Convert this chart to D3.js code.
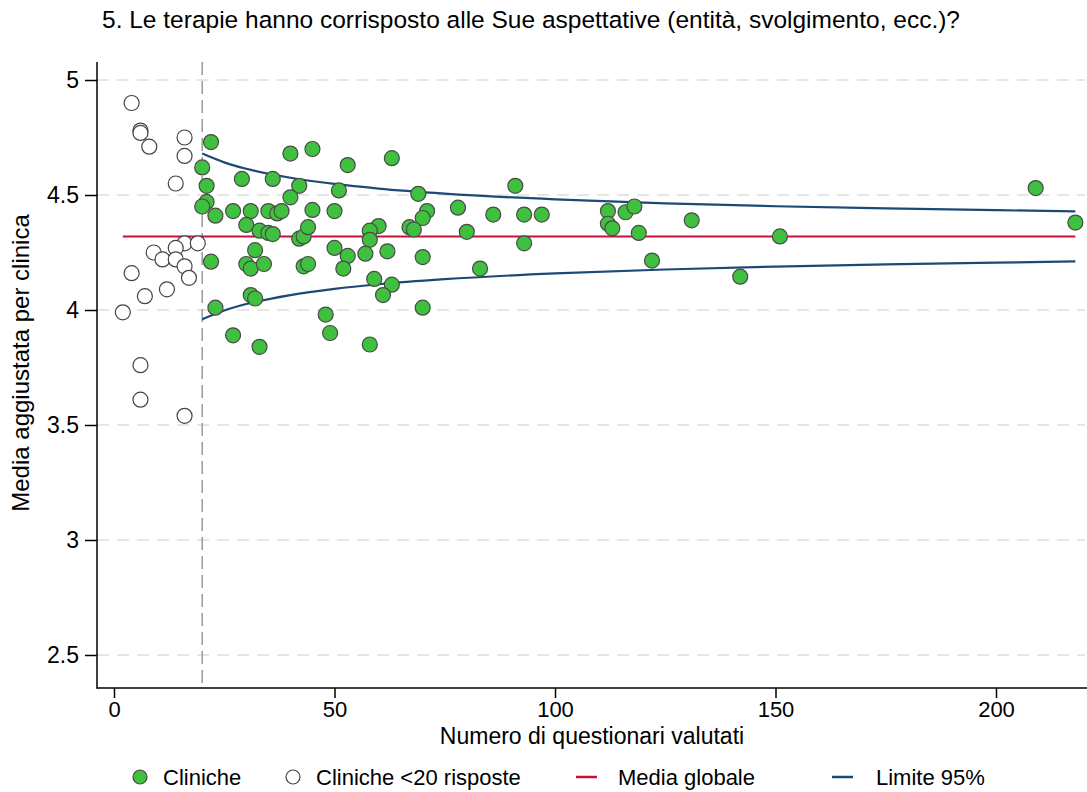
<!DOCTYPE html>
<html>
<head>
<meta charset="utf-8">
<script src="https://cdn.jsdelivr.net/npm/d3@7"></script>
<style>
  body { margin: 0; background: #fff; }
  text { font-family: "Liberation Sans", Arial, sans-serif; fill: #000; }
</style>
</head>
<body>
<div id="chart"></div>
<script>
// cliniche con almeno 20 risposte: [n, media]
const cliniche = [
  [22,4.73],[20,4.62],[21,4.54],[29,4.57],[21,4.47],[20,4.45],[23,4.41],[27,4.43],
  [40,4.68],[45,4.70],[36,4.57],[42,4.54],[40,4.49],[31,4.43],[35,4.43],[37,4.42],
  [38,4.43],[45,4.435],[30,4.37],[33,4.345],[35,4.335],[36,4.33],[42,4.31],[43,4.32],
  [44,4.36],[32,4.26],[22,4.21],[30,4.20],[31,4.18],[34,4.20],[43,4.19],[44,4.20],
  [31,4.065],[32,4.05],[23,4.01],[27,3.89],[33,3.84],[48,3.98],[53,4.63],[63,4.66],
  [51,4.52],[69,4.505],[50,4.43],[71,4.43],[70,4.40],[60,4.365],[58,4.345],[67,4.36],
  [68,4.35],[58,4.305],[50,4.27],[53,4.235],[52,4.18],[57,4.245],[62,4.255],[70,4.23],
  [59,4.135],[63,4.11],[61,4.065],[70,4.01],[49,3.90],[58,3.85],[78,4.445],[91,4.54],
  [86,4.415],[93,4.415],[97,4.415],[80,4.34],[93,4.29],[83,4.18],[112,4.43],[112,4.375],
  [113,4.355],[116,4.425],[118,4.45],[131,4.39],[119,4.335],[122,4.215],[142,4.145],
  [151,4.32],[209,4.53],[218,4.38]
];

// cliniche con meno di 20 risposte
const clinichePoche = [
  [4,4.90],[6,4.78],[6,4.77],[8,4.71],[16,4.75],[16,4.67],[14,4.55],[9,4.25],[4,4.16],
  [16,4.29],[19,4.29],[14,4.27],[11,4.22],[14,4.22],[16,4.19],[17,4.14],[12,4.09],
  [7,4.06],[2,3.99],[6,3.76],[6,3.61],[16,3.54]
];

const mediaGlobale = 4.32;
const mediaRange = [2, 218];

// limiti 95%
const limiteN = [20, 25, 30, 40, 50, 60, 75, 100, 125, 150, 175, 200, 218];
const limiteSup = [4.68, 4.642, 4.614, 4.575, 4.548, 4.528, 4.506, 4.481, 4.464, 4.451, 4.442, 4.434, 4.429];
const limiteInf = [3.96, 3.998, 4.026, 4.065, 4.092, 4.112, 4.134, 4.159, 4.176, 4.189, 4.198, 4.206, 4.211];

const soglia = 20;
const xTicks = [0, 50, 100, 150, 200];
const yTicks = [2.5, 3, 3.5, 4, 4.5, 5];

const titolo = '5. Le terapie hanno corrisposto alle Sue aspettative (entità, svolgimento, ecc.)?';
const xLabel = 'Numero di questionari valutati';
const yLabel = 'Media aggiustata per clinica';
const legenda = ['Cliniche', 'Cliniche <20 risposte', 'Media globale', 'Limite 95%'];

const W = 1087, H = 792;
const green = '#3fc03f', red = '#c8103c', blue = '#1c4a75';

const svg = d3.select('#chart').append('svg').attr('width', W).attr('height', H);

const x = d3.scaleLinear().domain([0, 200]).range([114, 996]);
const y = d3.scaleLinear().domain([2.5, 5]).range([655, 80]);

const axisX = 97, axisY = 688;

// titolo
svg.append('text').attr('x', 102).attr('y', 28)
  .style('font-size', '24.5px').text(titolo);

// griglia
svg.append('g').selectAll('line').data(yTicks).enter().append('line')
  .attr('x1', axisX).attr('x2', 1085)
  .attr('y1', d => y(d)).attr('y2', d => y(d))
  .attr('stroke', '#dedede').attr('stroke-width', 1.5).attr('stroke-dasharray', '12,8');

// linea verticale soglia
svg.append('line').attr('x1', x(soglia)).attr('x2', x(soglia)).attr('y1', 62).attr('y2', axisY)
  .attr('stroke', '#9a9a9a').attr('stroke-width', 1.5).attr('stroke-dasharray', '13,6');

// assi
const gy = svg.append('g').attr('transform', `translate(${axisX},0)`)
  .call(d3.axisLeft(y).tickValues(yTicks).tickSize(12).tickPadding(6).tickFormat(d3.format('')));
gy.select('.domain').remove();
gy.selectAll('text').style('font-size', '23px').attr('font-family', null);
gy.selectAll('.tick line').attr('stroke', '#000').attr('stroke-width', 1.5);
svg.append('line').attr('x1', axisX).attr('x2', axisX).attr('y1', 62).attr('y2', axisY + 0.75)
  .attr('stroke', '#000').attr('stroke-width', 1.5);

const gx = svg.append('g').attr('transform', `translate(0,${axisY})`)
  .call(d3.axisBottom(x).tickValues(xTicks).tickSize(10).tickPadding(3));
gx.select('.domain').remove();
gx.selectAll('text').style('font-size', '22px').attr('font-family', null);
gx.selectAll('.tick line').attr('stroke', '#000').attr('stroke-width', 1.5);
svg.append('line').attr('x1', axisX).attr('x2', W).attr('y1', axisY).attr('y2', axisY)
  .attr('stroke', '#000').attr('stroke-width', 1.5);

// etichette assi
svg.append('text').attr('x', 592).attr('y', 744).attr('text-anchor', 'middle')
  .style('font-size', '23px').text(xLabel);
svg.append('text').attr('transform', 'translate(29,363) rotate(-90)')
  .attr('text-anchor', 'middle').style('font-size', '24px').text(yLabel);

// media globale
svg.append('line').attr('x1', x(mediaRange[0])).attr('x2', x(mediaRange[1]))
  .attr('y1', y(mediaGlobale)).attr('y2', y(mediaGlobale))
  .attr('stroke', red).attr('stroke-width', 2);

// limiti
const line = d3.line().x(d => x(d[0])).y(d => y(d[1])).curve(d3.curveMonotoneX);
[limiteSup, limiteInf].forEach(arr => {
  svg.append('path').datum(limiteN.map((n, i) => [n, arr[i]]))
    .attr('d', line).attr('fill', 'none').attr('stroke', blue).attr('stroke-width', 2.2);
});

// punti
svg.append('g').selectAll('circle').data(clinichePoche).enter().append('circle')
  .attr('cx', d => x(d[0])).attr('cy', d => y(d[1])).attr('r', 7.5)
  .attr('fill', '#fff').attr('stroke', '#444').attr('stroke-width', 1.2);
svg.append('g').selectAll('circle').data(cliniche).enter().append('circle')
  .attr('cx', d => x(d[0])).attr('cy', d => y(d[1])).attr('r', 7.5)
  .attr('fill', green).attr('stroke', '#4a4a4a').attr('stroke-width', 1.2);

// legenda
const ly = 777;
const lg = svg.append('g').style('font-size', '22px');
lg.append('circle').attr('cx', 140).attr('cy', ly).attr('r', 7)
  .attr('fill', green).attr('stroke', '#4a4a4a').attr('stroke-width', 1.2);
lg.append('text').attr('x', 163).attr('y', ly + 8).text(legenda[0]);
lg.append('circle').attr('cx', 293).attr('cy', ly).attr('r', 7)
  .attr('fill', '#fff').attr('stroke', '#444').attr('stroke-width', 1.2);
lg.append('text').attr('x', 316).attr('y', ly + 8).text(legenda[1]);
lg.append('line').attr('x1', 576).attr('x2', 597).attr('y1', ly).attr('y2', ly)
  .attr('stroke', red).attr('stroke-width', 2.5);
lg.append('text').attr('x', 618).attr('y', ly + 8).text(legenda[2]);
lg.append('line').attr('x1', 832).attr('x2', 853).attr('y1', ly).attr('y2', ly)
  .attr('stroke', blue).attr('stroke-width', 2.5);
lg.append('text').attr('x', 876).attr('y', ly + 8).text(legenda[3]);
</script>
</body>
</html>
